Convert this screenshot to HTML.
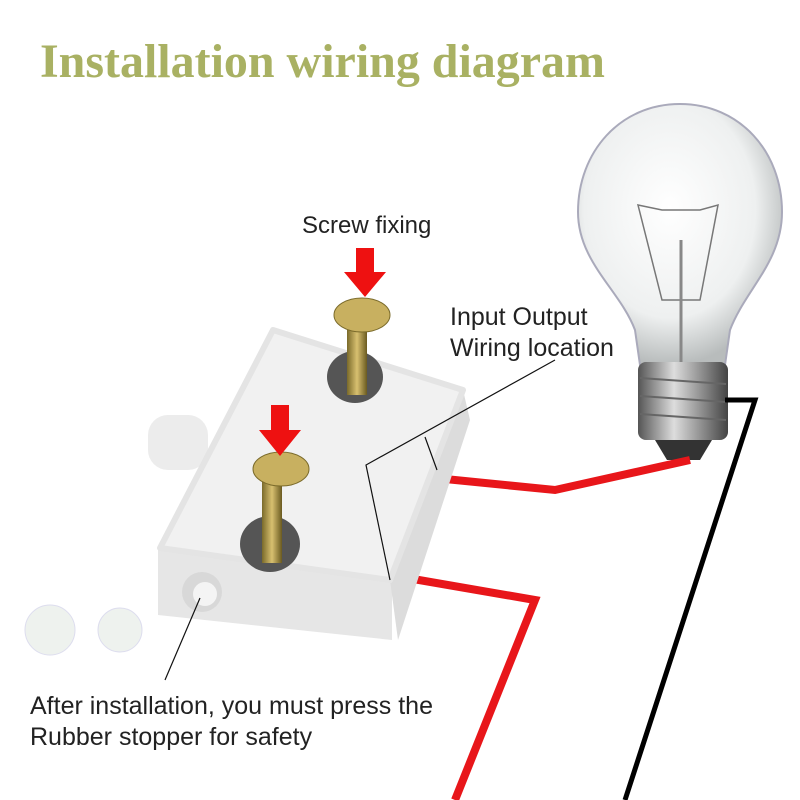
<!DOCTYPE html>
<html><head><style>
body{margin:0;width:800px;height:800px;background:#fff;overflow:hidden;position:relative;font-family:"Liberation Sans",sans-serif}
.t{position:absolute;color:#222;font-size:24px;line-height:31px}
</style></head><body>
<svg width="800" height="800" style="position:absolute;left:0;top:0">
<defs>
<radialGradient id="g" cx="0.45" cy="0.4" r="0.6"><stop offset="0" stop-color="#fff"/><stop offset="0.7" stop-color="#eef0f0"/><stop offset="1" stop-color="#b8bcbc"/></radialGradient>
<linearGradient id="m" x1="0" x2="1"><stop offset="0" stop-color="#555"/><stop offset="0.4" stop-color="#ddd"/><stop offset="1" stop-color="#444"/></linearGradient>
<linearGradient id="sc" x1="0" x2="1"><stop offset="0" stop-color="#7a6a2a"/><stop offset="0.5" stop-color="#d8c070"/><stop offset="1" stop-color="#6a5a20"/></linearGradient>
</defs>
<text x="40" y="77" font-family="Liberation Serif,serif" font-weight="bold" font-size="48" fill="#a9b163" textLength="565" lengthAdjust="spacingAndGlyphs">Installation wiring diagram</text>
<path d="M680,104 C740,104 782,152 782,212 C782,262 745,290 730,330 L725,365 L640,365 L635,330 C620,290 578,262 578,212 C578,152 620,104 680,104Z" fill="url(#g)" stroke="#aab" stroke-width="2"/>
<path d="M638,205 L662,210 L700,210 L718,205 L700,300 L662,300Z" fill="none" stroke="#777" stroke-width="1.5"/>
<line x1="681" y1="240" x2="681" y2="365" stroke="#888" stroke-width="3"/>
<rect x="638" y="362" width="90" height="78" rx="8" fill="url(#m)"/>
<g stroke="#666" stroke-width="2"><line x1="640" y1="378" x2="726" y2="384"/><line x1="640" y1="396" x2="726" y2="402"/><line x1="640" y1="414" x2="726" y2="420"/></g>
<path d="M655,440 L712,440 L700,460 L667,460Z" fill="#333"/>
<polyline points="725,400 755,400 625,800" fill="none" stroke="#000" stroke-width="5"/>
<polyline points="435,478 555,490 690,460" fill="none" stroke="#e8161a" stroke-width="8"/>
<polyline points="390,575 535,600 455,800" fill="none" stroke="#e8161a" stroke-width="8"/>
<rect x="148" y="415" width="60" height="55" rx="20" fill="#ececec"/>
<path d="M158,550 L392,580 L392,640 L158,615Z" fill="#e6e6e6"/>
<path d="M390,580 L463,390 L470,420 L398,640Z" fill="#dcdcdc"/>
<path d="M273,330 L463,390 L390,580 L160,548Z" fill="#f1f1f1" stroke="#e4e4e4" stroke-width="6" stroke-linejoin="round"/>
<circle cx="202" cy="592" r="20" fill="#d8d8d8"/><circle cx="205" cy="594" r="12" fill="#f4f4f4"/>
<ellipse cx="355" cy="377" rx="28" ry="26" fill="#555"/>
<ellipse cx="270" cy="544" rx="30" ry="28" fill="#555"/>
<rect x="347" y="315" width="20" height="80" fill="url(#sc)"/>
<rect x="262" y="478" width="20" height="85" fill="url(#sc)"/>
<ellipse cx="362" cy="315" rx="28" ry="17" fill="#c8b060" stroke="#7a6a2a"/>
<ellipse cx="281" cy="469" rx="28" ry="17" fill="#c8b060" stroke="#7a6a2a"/>
<circle cx="50" cy="630" r="25" fill="#eef2ee" stroke="#dde"/><circle cx="120" cy="630" r="22" fill="#eef2ee" stroke="#dde"/>
<path d="M356,248 L374,248 L374,272 L386,272 L365,297 L344,272 L356,272Z" fill="#ee1111"/>
<path d="M271,405 L289,405 L289,430 L301,430 L280,456 L259,430 L271,430Z" fill="#ee1111"/>
<g stroke="#111" stroke-width="1.2" fill="none">
<polyline points="555,360 366,465 390,580"/>
<polyline points="425,437 437,470"/>
<line x1="200" y1="598" x2="165" y2="680"/>
</g>
</svg>
<div class="t" style="left:302px;top:210px">Screw fixing</div>
<div class="t" style="left:450px;top:302px;font-size:25px">Input Output<br>Wiring location</div>
<div class="t" style="left:30px;top:691px;font-size:25px">After installation, you must press the<br>Rubber stopper for safety</div>
</body></html>
